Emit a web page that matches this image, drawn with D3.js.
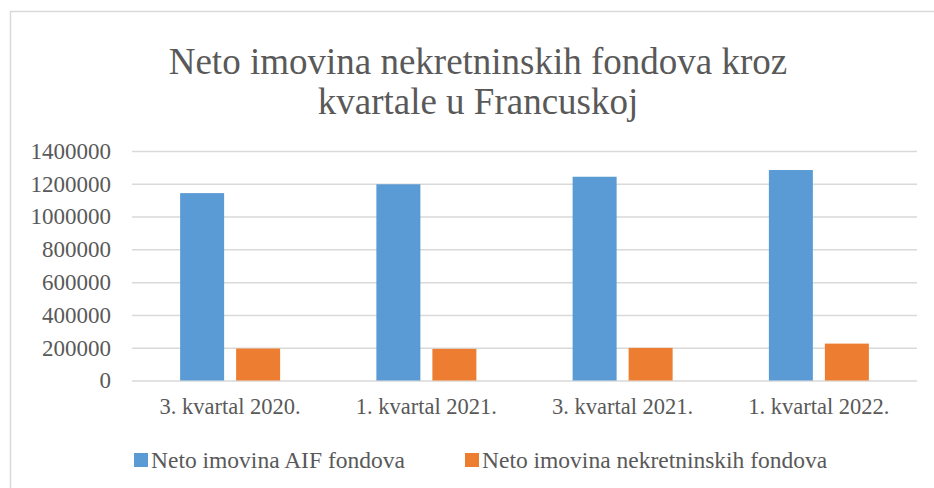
<!DOCTYPE html>
<html>
<head>
<meta charset="utf-8">
<script src="https://cdn.jsdelivr.net/npm/d3@7"></script>
<style>
  body { margin: 0; background: #fff; }
  svg { display: block; }
</style>
</head>
<body>
<div class="chart"></div>
<script>
var categories = ["3. kvartal 2020.", "1. kvartal 2021.", "3. kvartal 2021.", "1. kvartal 2022."];
var seriesNames = ["Neto imovina AIF fondova", "Neto imovina nekretninskih fondova"];
var aifValues = [1143000, 1197000, 1243000, 1284000];
var nekretnineValues = [195000, 193000, 199000, 225000];
var yTicks = [0, 200000, 400000, 600000, 800000, 1000000, 1200000, 1400000];
var titleLines = ["Neto imovina nekretninskih fondova kroz", "kvartale u Francuskoj"];
var colors = ["#5b9bd5", "#ed7d31"];

var FONT = "Liberation Serif, Times New Roman, serif";
var width = 934, height = 488;
var margin = {top: 151, right: 17, bottom: 107, left: 132};

var svg = d3.select(".chart").append("svg")
    .attr("width", width)
    .attr("height", height)
    .attr("font-family", FONT);

// outer chart frame (runs off the right and bottom edges)
svg.append("rect")
    .attr("x", 10.5).attr("y", 11.5)
    .attr("width", 940).attr("height", 500)
    .attr("fill", "none")
    .attr("stroke", "#d9d9d9")
    .attr("stroke-width", 1.5);

svg.selectAll(".title")
    .data(titleLines)
    .enter().append("text")
    .attr("class", "title")
    .attr("x", 478)
    .attr("y", function(d, i){ return 74 + i * 40; })
    .attr("text-anchor", "middle")
    .attr("font-family", FONT)
    .attr("font-size", 37)
    .attr("fill", "#595959")
    .text(function(d){ return d; });

var x = d3.scaleBand()
    .domain(categories)
    .range([margin.left, width - margin.right]);

var x1 = d3.scaleBand()
    .domain(seriesNames)
    .range([0, 100])
    .paddingInner(0.2143);

var y = d3.scaleLinear()
    .domain([0, 1400000])
    .range([height - margin.bottom - 0.5, margin.top]);

var yAxis = d3.axisLeft(y)
    .tickValues(yTicks)
    .tickFormat(d3.format("d"))
    .tickSize(-(width - margin.left - margin.right))
    .tickPadding(22);

svg.append("g")
    .attr("class", "y axis")
    .attr("transform", "translate(" + margin.left + ",0)")
    .call(yAxis)
    .attr("font-family", FONT)
    .attr("font-size", 23)
    .call(function(g){
        g.select(".domain").remove();
        g.selectAll(".tick line").attr("stroke", "#d9d9d9").attr("stroke-width", 1.5);
        g.selectAll(".tick text")
            .attr("x", -21)
            .attr("fill", "#595959");
    });

var rows = categories.map(function(c, i){
    return {cat: c, values: [aifValues[i], nekretnineValues[i]]};
});

var groups = svg.selectAll(".group")
    .data(rows)
    .enter().append("g")
    .attr("class", "group")
    .attr("transform", function(d){ return "translate(" + (x(d.cat) + x.bandwidth() / 2 - 50) + ",0)"; });

groups.selectAll("rect")
    .data(function(d){ return d.values.map(function(v, j){ return {name: seriesNames[j], value: v, j: j}; }); })
    .enter().append("rect")
    .attr("x", function(d){ return x1(d.name); })
    .attr("width", x1.bandwidth())
    .attr("y", function(d){ return y(d.value); })
    .attr("height", function(d){ return y(0) - y(d.value); })
    .attr("fill", function(d){ return colors[d.j]; });

var xAxis = d3.axisBottom(x).tickSize(0).tickPadding(18);

svg.append("g")
    .attr("class", "x axis")
    .attr("transform", "translate(0," + y(0) + ")")
    .call(xAxis)
    .attr("font-family", FONT)
    .attr("font-size", 22.5)
    .call(function(g){
        g.select(".domain").remove();
        g.selectAll(".tick text").attr("fill", "#595959");
    });

// legend
var legendX = [134, 465];
var legend = svg.selectAll(".legend")
    .data(seriesNames)
    .enter().append("g")
    .attr("class", "legend")
    .attr("transform", function(d, i){ return "translate(" + legendX[i] + ",453)"; });

legend.append("rect")
    .attr("width", 14).attr("height", 14)
    .attr("fill", function(d, i){ return colors[i]; });

legend.append("text")
    .attr("x", 17)
    .attr("y", 15)
    .attr("font-family", FONT)
    .attr("font-size", 23.5)
    .attr("fill", "#595959")
    .text(function(d){ return d; });
</script>
</body>
</html>
